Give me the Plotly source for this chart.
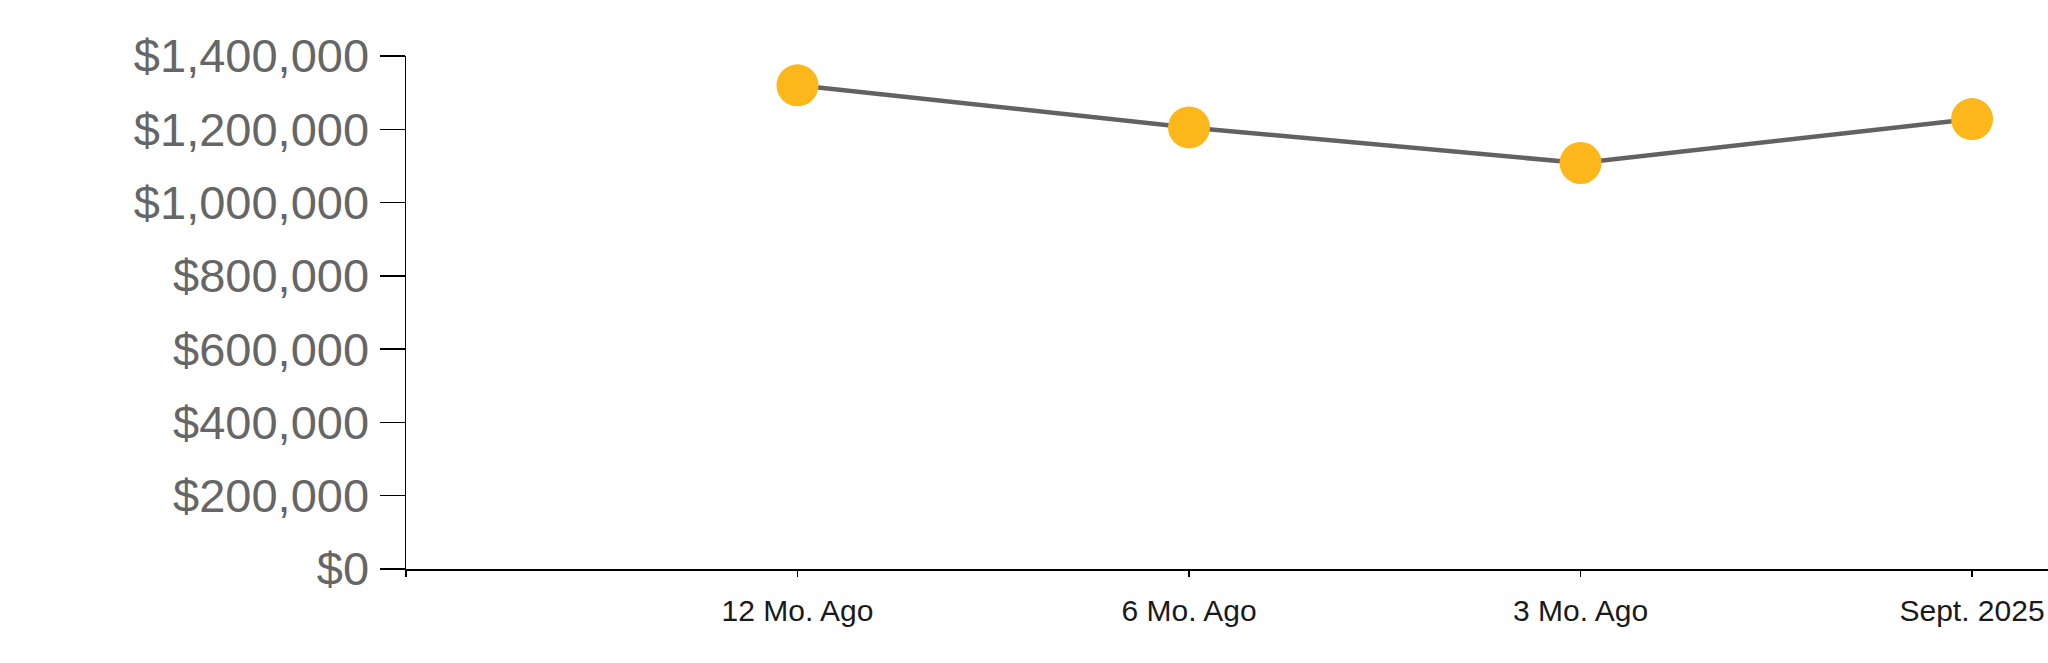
import plotly.graph_objects as go

categories = ["12 Mo. Ago", "6 Mo. Ago", "3 Mo. Ago", "Sept. 2025"]
values = [1320000, 1205000, 1108000, 1228000]
y_ticks = [0, 200000, 400000, 600000, 800000, 1000000, 1200000, 1400000]

xpos = list(range(len(categories)))

fig = go.Figure()
fig.add_trace(go.Scatter(
    x=xpos, y=values, mode="lines+markers",
    line=dict(color="#626262", width=4.5),
    marker=dict(color="#FDB71A", size=42, line=dict(width=0)),
    cliponaxis=False, hoverinfo="skip", showlegend=False,
))

fig.update_layout(
    width=2048, height=663,
    margin=dict(l=406, r=0, t=56, b=94, pad=0),
    paper_bgcolor="white", plot_bgcolor="white",
    font=dict(family="Arial, Liberation Sans, sans-serif"),
    xaxis=dict(
        range=[-1, 3.194],
        tickmode="array", tickvals=[-1] + xpos, ticktext=[""] + categories,
        showgrid=False, zeroline=False,
        showline=True, linecolor="black", linewidth=1.5,
        ticks="outside", ticklen=6, tickcolor="black", tickwidth=1.5,
        tickfont=dict(size=30, color="#1a1a1a"),
        ticklabelstandoff=8,
        ticklabeloverflow="allow",
    ),
    yaxis=dict(
        range=[0, 1400000],
        tickmode="array", tickvals=y_ticks,
        tickformat="$,.0f",
        showgrid=False, zeroline=False,
        showline=True, linecolor="black", linewidth=1.5,
        ticks="outside", ticklen=25, tickcolor="black", tickwidth=1.5,
        tickfont=dict(size=47, color="#666666"),
        ticklabelstandoff=1,
    ),
)

fig.write_html(
    "out.html",
    config={"displayModeBar": False, "staticPlot": True},
    post_script="document.body.style.margin='0';document.body.style.overflow='hidden';",
)
